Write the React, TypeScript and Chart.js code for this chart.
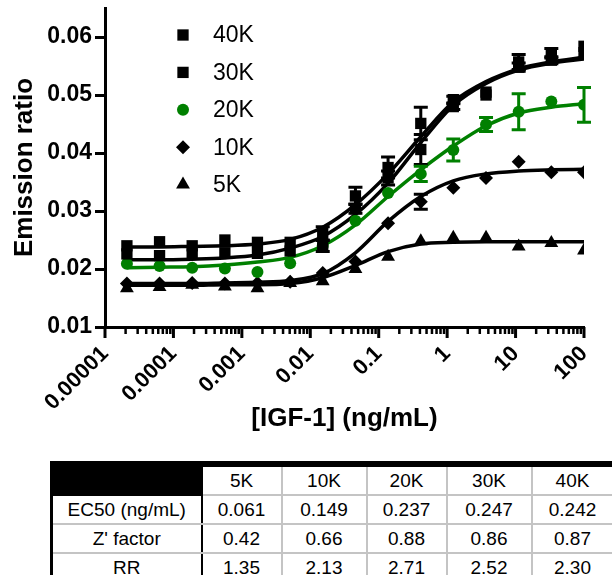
import React, { useEffect, useRef } from 'react';
import { Chart, registerables } from 'chart.js';

Chart.register(...registerables);

const FONT = '"Liberation Sans", Arial, Helvetica, sans-serif';

// IGF-1 concentrations (ng/mL), 3-fold dilution series
const concentrations = [
  0.0000209, 0.0000627, 0.000188, 0.000565, 0.00169, 0.00508, 0.0152, 0.0457,
  0.137, 0.412, 1.23, 3.70, 11.1, 33.3, 100,
];

const xTickValues = [0.00001, 0.0001, 0.001, 0.01, 0.1, 1, 10, 100];
const xTickLabels = ['0.00001', '0.0001', '0.001', '0.01', '0.1', '1', '10', '100'];
const xMinorFactors = [2, 3, 4, 5, 6, 7, 8, 9];
const yTickValues = [0.01, 0.02, 0.03, 0.04, 0.05, 0.06];
const yTickLabels = ['0.01', '0.02', '0.03', '0.04', '0.05', '0.06'];

const seriesLabels = ['40K', '30K', '20K', '10K', '5K'];

// measured points
const points40K = [0.0240, 0.0247, 0.0240, 0.0250, 0.0246, 0.0246, 0.0261, 0.0326, 0.0375, 0.0451, 0.0492, 0.0505, 0.0557, 0.0572, 0.0584];
const points30K = [0.0226, 0.0223, 0.0226, 0.0228, 0.0227, 0.0231, 0.0240, 0.0304, 0.0357, 0.0406, 0.0480, 0.0500, 0.0548, 0.0560, 0.0573];
const points20K = [0.0209, 0.0205, 0.0202, 0.0201, 0.0195, 0.0210, 0.0240, 0.0283, 0.0331, 0.0364, 0.0405, 0.0449, 0.0471, 0.0489, 0.0483];
const points10K = [0.0175, 0.0175, 0.0176, 0.0175, 0.0176, 0.0178, 0.0193, 0.0213, 0.0279, 0.0316, 0.0340, 0.0357, 0.0385, 0.0367, 0.0367];
const points5K = [0.0167, 0.0169, 0.0173, 0.0170, 0.0167, 0.0176, 0.0179, 0.0200, 0.0221, 0.0248, 0.0254, 0.0254, 0.0239, 0.0245, 0.0232];

// error bars (± SD)
const errors40K = [0, 0, 0, 0, 0, 0, 0.0012, 0.0015, 0.0018, 0.0028, 0.0006, 0, 0.0013, 0.0008, 0];
const errors30K = [0, 0, 0, 0, 0, 0, 0.0010, 0.0008, 0.0012, 0.0026, 0.0005, 0, 0.0007, 0.0006, 0];
const errors20K = [0, 0, 0, 0, 0, 0, 0, 0, 0, 0.0013, 0.0019, 0.0012, 0.0031, 0, 0.0030];
const errors10K = [0, 0, 0, 0, 0, 0, 0, 0, 0, 0.0013, 0, 0, 0, 0, 0];
const errors5K = [0, 0, 0, 0, 0, 0, 0, 0, 0, 0, 0, 0, 0, 0, 0];

// fitted curves read at the same concentrations
const curve40K = [0.0238, 0.0238, 0.0239, 0.0240, 0.0243, 0.0251, 0.0272, 0.0311, 0.0364, 0.0428, 0.0488, 0.0523, 0.0545, 0.0557, 0.0565];
const curve30K = [0.0216, 0.0216, 0.0217, 0.0219, 0.0224, 0.0236, 0.0256, 0.0294, 0.0348, 0.0418, 0.0482, 0.0520, 0.0543, 0.0555, 0.0562];
const curve20K = [0.0202, 0.0203, 0.0204, 0.0207, 0.0212, 0.0220, 0.0240, 0.0276, 0.0325, 0.0371, 0.0412, 0.0447, 0.0469, 0.0479, 0.0485];
const curve10K = [0.0175, 0.0175, 0.0175, 0.0176, 0.0177, 0.0180, 0.0192, 0.0228, 0.0282, 0.0325, 0.0352, 0.0364, 0.0369, 0.0371, 0.0372];
const curve5K = [0.0172, 0.0172, 0.0172, 0.0173, 0.0173, 0.0175, 0.0185, 0.0206, 0.0230, 0.0243, 0.0246, 0.0247, 0.0247, 0.0247, 0.0247];

// table
const tableColumns = ['5K', '10K', '20K', '30K', '40K'];
const ec50Values = ['0.061', '0.149', '0.237', '0.247', '0.242'];
const zFactorValues = ['0.42', '0.66', '0.88', '0.86', '0.87'];
const rrValues = ['1.35', '2.13', '2.71', '2.52', '2.30'];

const GREEN = '#008000';

const series = [
  { label: seriesLabels[0], points: points40K, errors: errors40K, curve: curve40K, color: '#000000', style: 'rect', radius: 8 },
  { label: seriesLabels[1], points: points30K, errors: errors30K, curve: curve30K, color: '#000000', style: 'rect', radius: 8 },
  { label: seriesLabels[2], points: points20K, errors: errors20K, curve: curve20K, color: GREEN, style: 'circle', radius: 6 },
  { label: seriesLabels[3], points: points10K, errors: errors10K, curve: curve10K, color: '#000000', style: 'rectRot', radius: 7 },
  { label: seriesLabels[4], points: points5K, errors: errors5K, curve: curve5K, color: '#000000', style: 'triangle', radius: 8 },
];

function drawMarker(ctx: CanvasRenderingContext2D, style: string, x: number, y: number, r: number, color: string) {
  ctx.save();
  ctx.fillStyle = color;
  ctx.beginPath();
  if (style === 'rect') {
    const s = r * Math.SQRT1_2;
    ctx.rect(x - s, y - s, 2 * s, 2 * s);
  } else if (style === 'circle') {
    ctx.arc(x, y, r, 0, Math.PI * 2);
  } else if (style === 'rectRot') {
    ctx.moveTo(x - r, y);
    ctx.lineTo(x, y - r);
    ctx.lineTo(x + r, y);
    ctx.lineTo(x, y + r);
    ctx.closePath();
  } else if (style === 'triangle') {
    ctx.moveTo(x, y - r);
    ctx.lineTo(x + r * Math.sin(Math.PI / 3), y + r / 2);
    ctx.lineTo(x - r * Math.sin(Math.PI / 3), y + r / 2);
    ctx.closePath();
  }
  ctx.fill();
  ctx.restore();
}

const errorBarPlugin = {
  id: 'errorBars',
  afterDatasetsDraw(chart: any) {
    const ctx = chart.ctx as CanvasRenderingContext2D;
    const xs = chart.scales.x;
    const ys = chart.scales.y;
    ctx.save();
    ctx.lineWidth = 3;
    series.forEach((s) => {
      ctx.strokeStyle = s.color;
      s.errors.forEach((e, i) => {
        if (!e) return;
        const px = xs.getPixelForValue(concentrations[i]);
        const yTop = ys.getPixelForValue(s.points[i] + e);
        const yBot = ys.getPixelForValue(s.points[i] - e);
        const cap = 7;
        ctx.beginPath();
        ctx.moveTo(px, yTop);
        ctx.lineTo(px, yBot);
        ctx.moveTo(px - cap, yTop);
        ctx.lineTo(px + cap, yTop);
        ctx.moveTo(px - cap, yBot);
        ctx.lineTo(px + cap, yBot);
        ctx.stroke();
      });
    });
    ctx.restore();
  },
};

const xTickMarksPlugin = {
  id: 'xTickMarks',
  afterDraw(chart: any) {
    const ctx = chart.ctx as CanvasRenderingContext2D;
    const xs = chart.scales.x;
    const y0 = xs.top;
    ctx.save();
    ctx.strokeStyle = '#000';
    xTickValues.forEach((v, i) => {
      const px = xs.getPixelForValue(v);
      ctx.lineWidth = 3;
      ctx.beginPath();
      ctx.moveTo(px, y0);
      ctx.lineTo(px, y0 + 11);
      ctx.stroke();
      if (i < xTickValues.length - 1) {
        ctx.lineWidth = 2.5;
        xMinorFactors.forEach((f) => {
          const pm = xs.getPixelForValue(v * f);
          ctx.beginPath();
          ctx.moveTo(pm, y0);
          ctx.lineTo(pm, y0 + 7);
          ctx.stroke();
        });
      }
    });
    ctx.restore();
  },
};

const legendPlugin = {
  id: 'insideLegend',
  afterDraw(chart: any) {
    const ctx = chart.ctx as CanvasRenderingContext2D;
    const markerX = 183;
    const textX = 213;
    const firstY = 35;
    const step = 37.4;
    ctx.save();
    ctx.font = `23px ${FONT}`;
    ctx.textBaseline = 'middle';
    ctx.textAlign = 'left';
    series.forEach((s, i) => {
      const y = firstY + i * step;
      drawMarker(ctx, s.style, markerX, y, s.radius, s.color);
      ctx.fillStyle = '#000';
      ctx.fillText(s.label, textX, y + 1);
    });
    ctx.restore();
  },
};

function ChartCanvas() {
  const ref = useRef<HTMLCanvasElement | null>(null);
  useEffect(() => {
    if (!ref.current) return;
    const datasets: any[] = [];
    series.forEach((s) => {
      datasets.push({
        label: s.label + ' fit',
        data: concentrations.map((x, i) => ({ x, y: s.curve[i] })),
        showLine: true,
        borderColor: s.color,
        borderWidth: 3.5,
        pointRadius: 0,
        fill: false,
        cubicInterpolationMode: 'monotone',
        order: 2,
      });
    });
    series.forEach((s) => {
      datasets.push({
        label: s.label,
        data: concentrations.map((x, i) => ({ x, y: s.points[i] })),
        showLine: false,
        pointStyle: s.style,
        pointRadius: s.radius,
        pointBackgroundColor: s.color,
        pointBorderColor: s.color,
        pointBorderWidth: 0,
        order: 1,
      });
    });
    const chart = new Chart(ref.current, {
      type: 'scatter',
      data: { datasets },
      plugins: [errorBarPlugin, xTickMarksPlugin, legendPlugin],
      options: {
        animation: false,
        responsive: false,
        maintainAspectRatio: false,
        events: [],
        layout: { padding: { top: 6, right: 28, left: 0, bottom: 0 } },
        plugins: {
          legend: { display: false },
          tooltip: { enabled: false },
        },
        scales: {
          x: {
            type: 'logarithmic',
            min: 0.00001,
            max: 100,
            afterBuildTicks: (scale: any) => {
              scale.ticks = xTickValues.map((v) => ({ value: v }));
            },
            afterFit: (scale: any) => {
              scale.height = 125;
              scale.paddingLeft = 0;
              scale.paddingRight = 0;
            },
            grid: { display: false, drawTicks: false, tickLength: 0 },
            border: { display: true, color: '#000', width: 3 },
            ticks: {
              autoSkip: false,
              minRotation: 45,
              maxRotation: 45,
              padding: 14,
              color: '#000',
              font: { family: FONT, size: 22, weight: 'bold' },
              callback: (_v: any, i: number) => xTickLabels[i],
            },
            title: {
              display: true,
              text: '[IGF-1] (ng/mL)',
              color: '#000',
              font: { family: FONT, size: 26, weight: 'bold' },
              padding: { top: 0, bottom: 18 },
            },
          },
          y: {
            type: 'linear',
            min: 0.01,
            max: 0.065,
            afterBuildTicks: (scale: any) => {
              scale.ticks = yTickValues.map((v) => ({ value: v }));
            },
            afterFit: (scale: any) => {
              scale.width = 105;
              scale.paddingTop = 0;
              scale.paddingBottom = 0;
            },
            grid: {
              display: true,
              drawOnChartArea: false,
              drawTicks: true,
              tickLength: 10,
              lineWidth: 3,
              color: '#000',
            },
            border: { display: true, color: '#000', width: 3 },
            ticks: {
              padding: 3,
              color: '#000',
              font: { family: FONT, size: 23, weight: 'bold' },
              callback: (_v: any, i: number) => yTickLabels[i],
            },
            title: {
              display: true,
              text: 'Emission ratio',
              color: '#000',
              font: { family: FONT, size: 26, weight: 'bold' },
              padding: { top: 9, bottom: 0 },
            },
          },
        },
      } as any,
    });
    return () => chart.destroy();
  }, []);
  return <canvas ref={ref} width={612} height={452} style={{ position: 'absolute', left: 0, top: 0 }} />;
}

const colWidths = [150, 80, 85, 80, 85, 82];
const GRAY = '2px solid #c4c4c4';

function DataTable() {
  const cellBase: React.CSSProperties = {
    borderLeft: GRAY,
    borderRight: GRAY,
    borderBottom: GRAY,
    textAlign: 'center',
    padding: 0,
    height: 27,
    fontSize: 19,
    lineHeight: '20px',
    color: '#000',
    whiteSpace: 'nowrap',
  };
  const firstCol: React.CSSProperties = {
    ...cellBase,
    borderLeft: '3px solid #000',
    borderRight: '2px solid #000',
  };
  const rows = [
    { name: 'EC50 (ng/mL)', values: ec50Values },
    { name: "Z' factor", values: zFactorValues },
    { name: 'RR', values: rrValues },
  ];
  return (
    <table
      style={{
        position: 'absolute',
        left: 50,
        top: 461,
        width: colWidths.reduce((a, b) => a + b, 0),
        borderCollapse: 'collapse',
        tableLayout: 'fixed',
        fontFamily: FONT,
        background: '#fff',
      }}
    >
      <colgroup>
        {colWidths.map((w, i) => (
          <col key={i} style={{ width: w }} />
        ))}
      </colgroup>
      <tbody>
        <tr>
          <td style={{ ...firstCol, background: '#000', borderTop: '6px solid #000', borderBottom: '2px solid #000' }} />
          {tableColumns.map((c) => (
            <td key={c} style={{ ...cellBase, borderTop: '6px solid #000', height: 21 }}>
              {c}
            </td>
          ))}
        </tr>
        {rows.map((r) => (
          <tr key={r.name}>
            <td style={firstCol}>{r.name}</td>
            {r.values.map((v, i) => (
              <td key={i} style={cellBase}>
                {v}
              </td>
            ))}
          </tr>
        ))}
      </tbody>
    </table>
  );
}

export default function App() {
  return (
    <div style={{ position: 'absolute', left: 0, top: 0, width: 612, height: 575, background: '#fff', overflow: 'hidden' }}>
      <ChartCanvas />
      <DataTable />
    </div>
  );
}
